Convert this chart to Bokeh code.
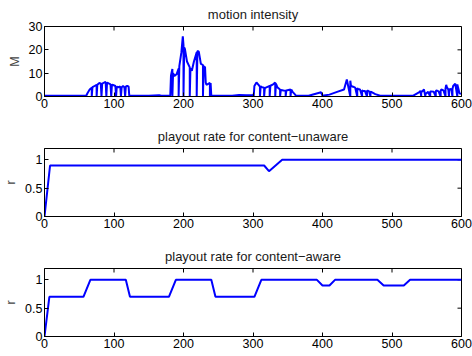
import math
from bokeh.plotting import figure
from bokeh.layouts import column
from bokeh.models import Range1d, FixedTicker
from bokeh.embed import file_html
from bokeh.resources import INLINE

# ---- data ----
t_motion = [0, 60, 62, 65, 68, 68, 69, 72, 75, 75, 76, 79, 81, 82, 83, 86, 88, 89, 90, 93, 95, 96,
            97, 100, 102, 103, 104, 107, 109, 110, 111, 113, 115, 116, 117, 119, 121, 122,
            150, 165, 168, 180,
            181, 182, 184, 184, 185, 187, 190, 193, 193, 194, 197, 199, 200, 200, 201, 202, 205, 209, 209,
            210, 212, 215, 219, 219, 220, 222, 225, 228, 228, 229, 231, 232, 233, 238, 238, 239, 240,
            270, 280, 290, 300,
            301, 301, 302, 305, 308, 310, 310, 311, 313, 316, 316, 317, 320, 324, 324, 325, 329, 332, 332,
            333, 335, 338, 339, 339, 340, 344, 347, 347, 348, 351, 354, 354, 355, 357, 360, 362, 366,
            380, 398, 400, 402, 410, 421, 431, 435, 440, 440, 441, 444, 447, 450, 450, 451, 454, 457, 457,
            458, 461, 464, 464, 465, 467, 469, 469, 470, 476, 483, 488,
            530, 540, 541, 542, 542, 543, 546, 548, 548, 549, 552, 555, 555, 556, 560, 563, 563, 564, 567,
            570, 570, 571, 574, 577, 577, 578, 579, 581, 582, 582, 583, 585, 587, 587, 588, 591, 594, 594,
            595, 597, 599, 600]
m_motion = [0.3, 0.3, 1.5, 3.0, 3.8, 0, 4.0, 4.5, 5.0, 0, 5.0, 5.8, 5.5, 0, 5.5, 6.0, 6.2, 0, 6.0, 5.5, 5.2, 0,
            5.0, 4.8, 4.5, 0, 4.2, 4.0, 4.3, 0, 4.0, 4.5, 4.0, 0, 4.2, 4.6, 4.2, 0.3,
            0.3, 0.5, 0.3, 0.3,
            0.5, 9.0, 11.8, 0, 10.0, 8.8, 9.5, 12.0, 0, 13.0, 19.0, 25.8, 22.0, 0, 21.0, 20.4, 15.0, 12.5, 0,
            12.0, 11.0, 15.0, 19.0, 0, 19.5, 19.2, 14.0, 13.5, 0, 13.0, 12.5, 6.0, 5.0, 5.8, 0, 5.8, 0.3,
            0.3, 0.6, 0.5, 0.6,
            1.0, 0, 4.5, 6.0, 5.0, 4.2, 0, 4.3, 4.0, 3.8, 0, 3.6, 4.0, 4.5, 0, 4.6, 5.2, 6.0, 0,
            5.5, 4.0, 3.2, 3.0, 0, 2.8, 2.6, 2.5, 0, 2.6, 2.8, 3.0, 0, 3.0, 2.0, 1.0, 0.3,
            0.3, 0.3, 1.8, 0.3, 0.4, 0.8, 2.0, 3.0, 7.3, 0, 6.8, 4.5, 4.2, 3.8, 0, 3.6, 3.2, 3.0, 0,
            2.6, 2.5, 2.4, 0, 2.4, 2.5, 2.2, 0, 2.1, 2.0, 1.0, 0.3,
            0.3, 0.3, 2.0, 2.5, 0, 2.2, 2.0, 3.0, 0, 1.5, 1.2, 2.0, 0, 2.0, 2.2, 2.0, 0, 2.3, 2.6,
            2.2, 0, 2.4, 3.0, 2.6, 0, 3.5, 5.0, 4.0, 3.0, 0, 3.2, 3.0, 3.3, 0, 3.2, 4.5, 5.5, 0,
            5.2, 4.0, 1.5, 1.0]

t_unaware = [0, 8, 316, 323, 342, 600]
r_unaware = [0, 0.9, 0.9, 0.8, 1.0, 1.0]

t_aware = [0, 7, 56, 66, 117, 123, 179, 189, 240, 246, 302, 312, 392, 400, 410, 418, 479, 488, 517, 526, 600]
r_aware = [0, 0.7, 0.7, 1.0, 1.0, 0.7, 0.7, 1.0, 1.0, 0.7, 0.7, 1.0, 1.0, 0.9, 0.9, 1.0, 1.0, 0.9, 0.9, 1.0, 1.0]

x_ticks = [0, 100, 200, 300, 400, 500, 600]
m_ticks = [0, 10, 20, 30]
r_ticks = [0, 0.5, 1]

FONT = "Liberation Sans"
BLUE = "#0000ff"
XMAX = 600


def make_panel(title, ylabel, ymax, yticks, h, top, bottom):
    p = figure(width=472, height=h, output_backend="svg", toolbar_location=None,
               x_range=Range1d(0, XMAX), y_range=Range1d(0, ymax),
               min_border_left=44, min_border_right=11, min_border_top=top, min_border_bottom=bottom)
    p.title.text = title
    p.title.align = "center"
    p.title.text_font = FONT
    p.title.text_font_size = "13px"
    p.title.text_font_style = "normal"
    p.title.text_color = "#1a1a1a"
    p.title.standoff = 9
    p.xgrid.visible = False
    p.ygrid.visible = False
    p.outline_line_color = "black"
    p.outline_line_width = 1
    p.background_fill_color = "white"
    p.border_fill_color = "white"
    for ax, ticks in ((p.xaxis[0], x_ticks), (p.yaxis[0], yticks)):
        ax.ticker = FixedTicker(ticks=ticks)
        ax.major_tick_in = 4
        ax.major_tick_out = 0
        ax.minor_tick_line_color = None
        ax.axis_line_color = "black"
        ax.major_label_text_font = FONT
        ax.major_label_text_font_size = "12.5px"
        ax.major_label_text_color = "black"
        ax.major_label_standoff = 2
    p.yaxis[0].axis_label = ylabel
    p.yaxis[0].axis_label_text_font = FONT
    p.yaxis[0].axis_label_text_font_size = "12.5px"
    p.yaxis[0].axis_label_text_font_style = "normal"
    p.yaxis[0].axis_label_standoff = 4
    # mirrored tick marks on the top and right edges of the box
    p.ray(x=x_ticks, y=[ymax] * len(x_ticks), length=4, length_units="screen",
          angle=-math.pi / 2, line_color="black", line_width=1)
    p.ray(x=[XMAX] * len(yticks), y=yticks, length=4, length_units="screen",
          angle=math.pi, line_color="black", line_width=1)
    return p


p1 = make_panel("motion intensity", "M", 30, m_ticks, 120, 26, 24)
p1.line(t_motion, m_motion, line_color=BLUE, line_width=2)

p2 = make_panel("playout rate for content\u2212unaware", "r", 1.2, r_ticks, 120, 28, 24)
p2.line(t_unaware, r_unaware, line_color=BLUE, line_width=2)

p3 = make_panel("playout rate for content\u2212aware", "r", 1.2, r_ticks, 115, 28, 19)
p3.line(t_aware, r_aware, line_color=BLUE, line_width=2)

layout = column(p1, p2, p3, spacing=0)
open("out.html", "w").write(file_html(layout, INLINE))
